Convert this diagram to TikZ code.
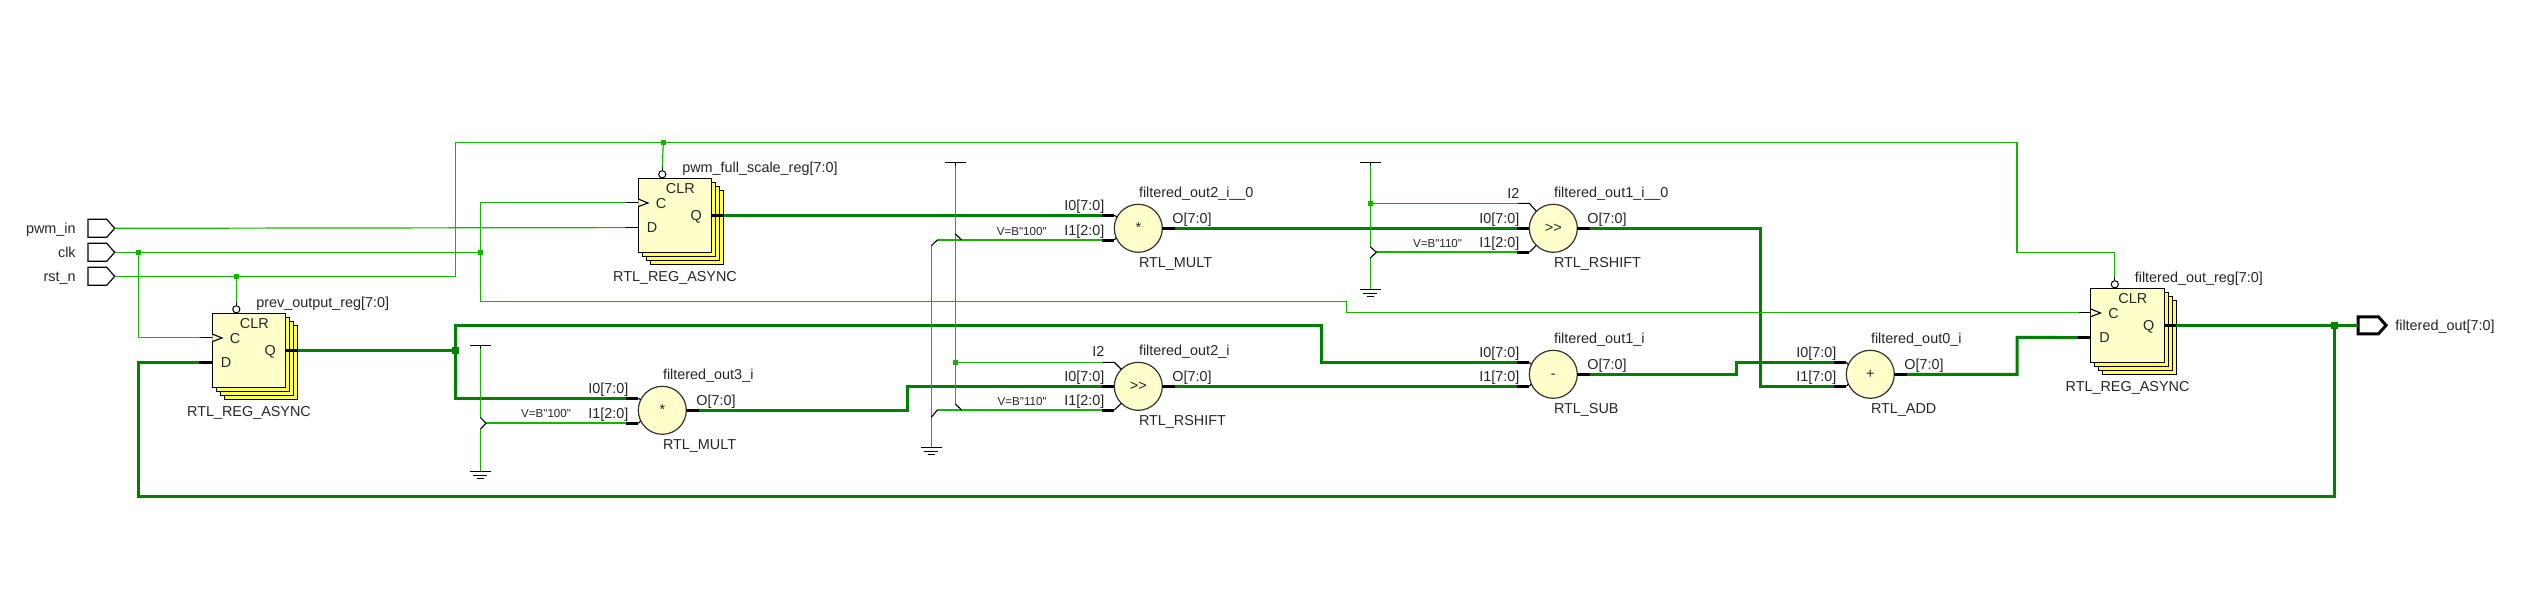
\documentclass[tikz,border=0pt]{standalone}
\usepackage{fontspec}
\usetikzlibrary{positioning,shadows,shapes.symbols}
\newfontfamily\netfont{Liberation Sans}
\definecolor{netgreen}{HTML}{14B400}
\definecolor{busgreen}{HTML}{007F00}
\definecolor{regfront}{HTML}{FFFFCC}
\definecolor{regback}{HTML}{FFFF55}
\tikzset{
  every node/.style={font=\fontsize{14.4}{16}\netfont,text=black!85,inner sep=0pt,outer sep=0pt,text height=12.5pt,text depth=2.5pt},
  lbl/.style={anchor=west},
  lblr/.style={anchor=east},
  smalllbl/.style={anchor=east,font=\fontsize{11.6}{13}\netfont,text height=10.5pt,text depth=3pt},
  regbox/.style={rectangle,draw=black,line width=1.2pt,fill=regfront,minimum width=73.4pt,minimum height=74pt,text height=,text depth=,
    copy shadow={shadow xshift=12pt,shadow yshift=-12pt,fill=regback,draw=black,opacity=1},
    copy shadow={shadow xshift=8pt,shadow yshift=-8pt,fill=regback,draw=black,opacity=1},
    copy shadow={shadow xshift=4pt,shadow yshift=-4pt,fill=regback,draw=black,opacity=1}},
  opcirc/.style={circle,draw=black!80,line width=1.2pt,fill=regfront,minimum size=48pt,text height=10.5pt,text depth=3pt},
  inport/.style={signal,signal from=nowhere,signal to=east,signal pointer angle=97,anchor=east,draw=black,line width=1.2pt,fill=white,minimum width=26.7pt,minimum height=18pt,text height=,text depth=},
  outport/.style={inport,line width=3pt,minimum width=28pt,minimum height=17pt},
  netw/.style={draw=netgreen,line width=1.2pt},
  constw/.style={draw=netgreen,line width=2.2pt},
  busw/.style={draw=busgreen,line width=3pt},
  pinthin/.style={draw=black,line width=1.1pt},
  pinbus/.style={draw=black,line width=3pt},
  dotw/.style={rectangle,fill=netgreen,minimum size=5pt,text height=,text depth=},
  dotb/.style={rectangle,fill=busgreen,minimum size=7pt,text height=,text depth=}
}
\begin{document}
\begin{tikzpicture}[x=1pt,y=-1pt]
\useasboundingbox (0,0) rectangle (2529,606);

% ports
\node[inport] (pwmin) at (114.7,228.3) {};
\node[inport] (clk) at (114.7,252.3) {};
\node[inport] (rstn) at (114.7,276.3) {};
\node[outport] (outp) at (2386,325.3) {};
\node[lblr,left=12.3pt of pwmin] (pwminlbl) {pwm\_in};
\node[lblr,left=12.3pt of clk] (clklbl) {clk};
\node[lblr,left=12.3pt of rstn] (rstnlbl) {rst\_n};
\node[lbl,right=9.3pt of outp] (outplbl) {filtered\_out[7:0]};

% registers
\node[regbox] (prevreg) at (249,350.3) {};
\node[regbox] (fullreg) at (675,215.3) {};
\node[regbox] (outreg) at (2127.5,325.3) {};
\foreach \rr/\nm in {prevreg/prev\_output\_reg[7:0],fullreg/pwm\_full\_scale\_reg[7:0],outreg/filtered\_out\_reg[7:0]}{
  \node (\rr clr) at ([shift={(42,9.7)}]\rr.north west) {CLR};
  \node (\rr cc) at ([shift={(22.7,24.7)}]\rr.north west) {C};
  \node (\rr dd) at ([shift={(13.7,49)}]\rr.north west) {D};
  \node (\rr qq) at ([shift={(58,36.7)}]\rr.north west) {Q};
  \node[lbl] (\rr name) at ([shift={(44,-11)}]\rr.north west) {\nm};
  \node (\rr type) at ([shift={(36.7,97.7)}]\rr.north west) {RTL\_REG\_ASYNC};
  \coordinate (\rr-c) at ([shift={(-12,24.3)}]\rr.north west);
  \coordinate (\rr-d) at ([shift={(-13,49.3)}]\rr.north west);
  \coordinate (\rr-q) at ([shift={(85.4,37)}]\rr.north west);
  \coordinate (\rr-r) at ([shift={(24,-11)}]\rr.north west);
  \draw[pinthin] (\rr-c) -- ++(12,0);
  \draw[pinthin,fill=regfront] ([shift={(0,20.7)}]\rr.north west) -- ([shift={(9.7,24.7)}]\rr.north west) -- ([shift={(0,28.3)}]\rr.north west);
  \draw[pinbus] (\rr.north east |- \rr-q) -- (\rr-q);
  \draw[pinthin] (\rr-r) -- ++(0,3);
  \draw[draw=black,line width=1pt,fill=white] ([shift={(24,-4)}]\rr.north west) circle (3.6);
}
\draw[pinbus] (prevreg-d) -- (prevreg.west |- prevreg-d);
\draw[pinthin] (fullreg-d) -- (fullreg.west |- fullreg-d);
\draw[pinbus] (outreg-d) -- (outreg.west |- outreg-d);

% operators
\node[opcirc] (mult3) at (662.3,410.3) {*};
\node[opcirc] (mult2) at (1138.3,228.3) {*};
\node[opcirc] (rsh1) at (1138.3,386.3) {>>};
\node[opcirc] (rsh0) at (1553.3,228.3) {>>};
\node[opcirc] (sub) at (1553.3,374.3) {-};
\node[opcirc] (add) at (1870.3,374.3) {+};
\foreach \cc/\dyi/\dyj/\angi/\angj/\bits/\nm/\tp in {
  mult3/-12/13/154/206/2/filtered\_out3\_i/RTL\_MULT,
  mult2/-13/11.7/152/203/2/filtered\_out2\_i\_\_0/RTL\_MULT,
  rsh1/0/23.7/180/225/2/filtered\_out2\_i/RTL\_RSHIFT,
  rsh0/0/24/180/225/2/filtered\_out1\_i\_\_0/RTL\_RSHIFT,
  sub/-12/12/156/204/7/filtered\_out1\_i/RTL\_SUB,
  add/-12/12/156/204/7/filtered\_out0\_i/RTL\_ADD}{
  \coordinate (\cc-i0) at ([shift={(-36,\dyi)}]\cc.center);
  \coordinate (\cc-i1) at ([shift={(-36,\dyj)}]\cc.center);
  \coordinate (\cc-o) at ([shift={(36.7,0)}]\cc.center);
  \draw[pinthin] ([shift={(-24,\dyi)}]\cc.center) -- (\cc.\angi);
  \draw[pinthin] ([shift={(-24,\dyj)}]\cc.center) -- (\cc.\angj);
  \draw[pinbus] (\cc-i0) -- ++(12,0);
  \draw[pinbus] (\cc-i1) -- ++(12,0);
  \draw[pinbus] (\cc.east) -- (\cc-o);
  \node[lblr] (\cc l0) at ([shift={(-34,\dyi-10)}]\cc.center) {I0[7:0]};
  \node[lblr] (\cc l1) at ([shift={(-34,\dyj-10)}]\cc.center) {I1[\bits:0]};
  \node[lbl] (\cc lo) at ([shift={(34,-10)}]\cc.center) {O[7:0]};
  \node[lbl] (\cc name) at ([shift={(0.7,-36.3)}]\cc.center) {\nm};
  \node[lbl] (\cc type) at ([shift={(0.7,34)}]\cc.center) {\tp};
}
\coordinate (rsh1-i2) at ([shift={(-36,-24)}]rsh1.center);
\coordinate (rsh0-i2) at ([shift={(-36,-25)}]rsh0.center);
\node[lblr] (rsh1l2) at ([shift={(-34,-35.3)}]rsh1.center) {I2};
\node[lblr] (rsh0l2) at ([shift={(-34,-35.3)}]rsh0.center) {I2};

% bus nets
\node[dotb] (prevdot) at (455.3,350.3) {};
\node[dotb] (outdot) at (2334.3,325.3) {};
\coordinate (fbcorner) at (138.7,496.3);
\coordinate (subbend) at (1321.7,325.7);
\coordinate (rshbend) at (907.3,386.3);
\coordinate (addbend0) at (1736.7,362.3);
\coordinate (addbend1) at (1760.3,386.3);
\coordinate (outbend) at (2017,337.3);
\draw[busw] (prevreg-q) -- (prevdot);
\draw[busw] (prevdot) |- (mult3-i0);
\draw[busw] (prevdot) |- (subbend) |- (sub-i0);
\draw[busw] (outreg-q) -- (outp.west);
\draw[busw] (outdot) |- (fbcorner) |- (prevreg-d);
\draw[busw] (fullreg-q) -- (mult2-i0);
\draw[busw] (mult2-o) -- (rsh0-i0);
\draw[busw] (mult3-o) -| (rshbend) -- (rsh1-i0);
\draw[busw] (rsh1-o) -- (sub-i1);
\draw[busw] (sub-o) -| (addbend0) -- (add-i0);
\draw[busw] (rsh0-o) -| (addbend1) -- (add-i1);
\draw[busw] (add-o) -| (outbend) -- (outreg-d);

% single nets
\node[dotw] (clkdot0) at (138.7,252.3) {};
\node[dotw] (clkdot1) at (480.3,252.3) {};
\node[dotw] (rstdot0) at (236.3,276.3) {};
\node[dotw] (rstdot1) at (663.3,142.3) {};
\coordinate (rstbend0) at (455.3,142.3);
\coordinate (rstbend1) at (2017,252.3);
\coordinate (clkbend) at (1346.7,301.3);
\draw[netw] (pwmin.east) -- (fullreg-d);
\draw[netw] (clk.east) -- (clkdot1);
\draw[netw] (clkdot0) |- (prevreg-c);
\draw[netw] (clkdot1) |- (fullreg-c);
\draw[netw] (clkdot1) |- (clkbend) |- (outreg-c);
\draw[netw] (rstn.east) -| (rstbend0) -| (rstbend1) -| (outreg-r);
\draw[netw] (rstdot0) -- (prevreg-r);
\draw[netw] (rstdot1) -- (fullreg-r);

% constants
\foreach \vv/\vx/\vy in {vcc0/480.3/345.3,vcc1/955.3/162.3,vcc2/1370.3/162.3}{
  \coordinate (\vv) at (\vx,\vy);
}
\foreach \gg/\gx/\gy in {gnd0/480.3/471.3,gnd1/931.3/447.3,gnd2/1370.3/289.3}{
  \coordinate (\gg) at (\gx,\gy);
}
\coordinate (c0up) at (480.3,417.3);
\coordinate (c0tip) at (486,423.3);
\coordinate (c0dn) at (480.3,429.3);
\coordinate (c1tip) at (937.3,240);
\coordinate (c1dn) at (931.3,245.7);
\coordinate (c2up) at (955.3,234);
\coordinate (c2tip) at (961.7,240);
\coordinate (c3tip) at (937.3,410);
\coordinate (c3dn) at (931.3,417.3);
\coordinate (c4up) at (955.3,404);
\coordinate (c4tip) at (961.7,410);
\coordinate (c5up) at (1370.3,246.7);
\coordinate (c5tip) at (1376.3,252.3);
\coordinate (c5dn) at (1370.3,258);
\node[dotw] (vccdot1) at (955.3,362.3) {};
\node[dotw] (vccdot2) at (1370.3,203.3) {};
\draw[netw] (vcc0) -- (c0up) (c0dn) -- (gnd0);
\draw[netw] (vcc1) -- (c4up);
\draw[netw] (c1dn) -- (gnd1);
\draw[netw] (vcc2) -- (c5up) (c5dn) -- (gnd2);
\draw[netw] (vccdot1) -- (rsh1-i2);
\draw[netw] (vccdot2) -- (rsh0-i2);
\draw[constw] (c0tip) -- (mult3-i1);
\draw[constw] (c1tip) -- (mult2-i1);
\draw[constw] (c3tip) -- (rsh1-i1);
\draw[constw] (c5tip) -- (rsh0-i1);
\draw[pinthin] (c0up) -- (c0tip) -- (c0dn);
\draw[pinthin] (c1tip) -- (c1dn);
\draw[pinthin] (c2up) -- (c2tip);
\draw[pinthin] (c3tip) -- (c3dn);
\draw[pinthin] (c4up) -- (c4tip);
\draw[pinthin] (c5up) -- (c5tip) -- (c5dn);
\draw[pinthin] (rsh1-i2) -- ++(12,0) -- (rsh1.135);
\draw[pinthin] (rsh0-i2) -- ++(12,0) -- (rsh0.135);
\foreach \vv in {vcc0,vcc1,vcc2}{
  \draw[pinthin] (\vv) ++(-10.3,0) -- ++(20.6,0);
  \draw[pinthin] (\vv) -- ++(0,4);
}
\foreach \gg in {gnd0,gnd1,gnd2}{
  \draw[pinthin] (\gg) ++(-10.3,0) -- ++(20.6,0);
  \draw[pinthin] (\gg) ++(-7,4.3) -- ++(14,0);
  \draw[pinthin] (\gg) ++(-3.5,7) -- ++(7,0);
}
\node[smalllbl] (vlbl0) at (571,413.3) {V=B"100"};
\node[smalllbl] (vlbl1) at (1046.7,231.7) {V=B"100"};
\node[smalllbl] (vlbl2) at (1046.7,401.7) {V=B"110"};
\node[smalllbl] (vlbl3) at (1462,243.7) {V=B"110"};
\end{tikzpicture}
\end{document}
